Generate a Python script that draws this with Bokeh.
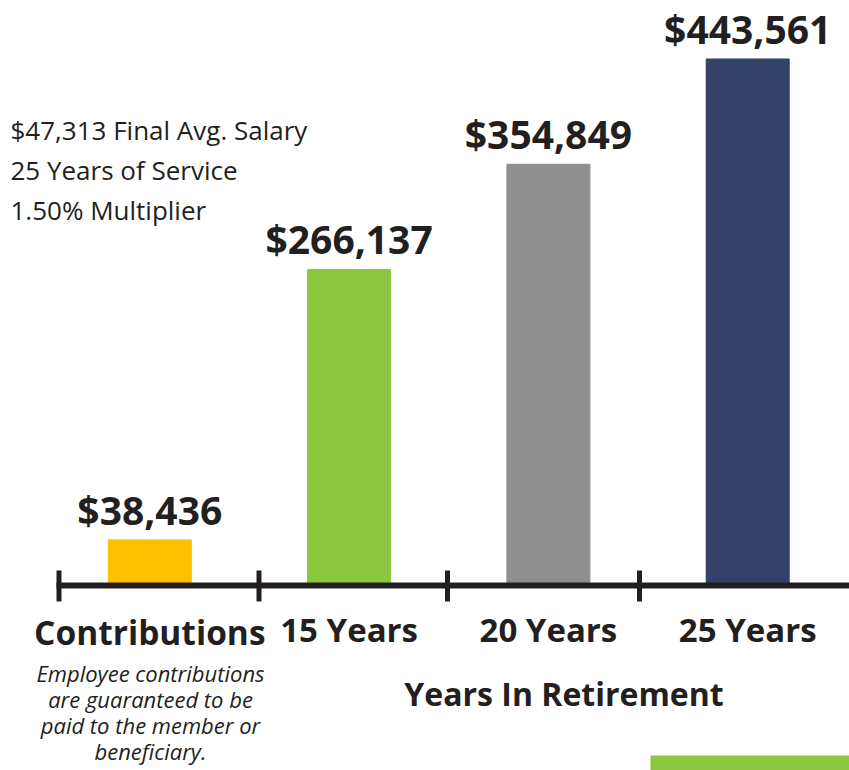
from bokeh.plotting import figure
from bokeh.models import Range1d, ColumnDataSource
from bokeh.core.properties import value
from bokeh.embed import file_html
from bokeh.resources import INLINE

# ---- data ----
categories = ["Contributions", "15 Years", "20 Years", "25 Years"]
amounts = [38436, 266137, 354849, 443561]
amount_labels = ["$38,436", "$266,137", "$354,849", "$443,561"]
bar_colors = ["#FFC000", "#8DC63F", "#8F8F8F", "#344169"]
info_lines = ["$47,313 Final Avg. Salary", "25 Years of Service", "1.50% Multiplier"]
note_lines = ["Employee contributions", "are guaranteed to be",
              "paid to the member or", "beneficiary."]
axis_title = "Years In Retirement"

# ---- layout constants (pixels) ----
W, H = 849, 770
PX_PER_CAT = 199.3
FIRST_CENTER_PX = 149.3
PX_PER_DOLLAR = 0.001187
ZERO_PX = 585.0
INK = "#231F20"
FONT = value("Open Sans")
BASE_FIX = 0.4  # em-based correction so the alphabetic baseline lands where wanted


def xd(px):
    return (px - FIRST_CENTER_PX) / PX_PER_CAT


def yd(py):
    return (ZERO_PX - py) / PX_PER_DOLLAR


def text_y(baseline_px, size):
    return yd(baseline_px - BASE_FIX * size)


p = figure(width=W, height=H,
           x_range=Range1d(xd(0), xd(W)), y_range=Range1d(yd(H), yd(0)),
           output_backend="svg", toolbar_location=None, min_border=0,
           x_axis_location=None, y_axis_location=None)
p.grid.visible = False
p.outline_line_color = None
p.background_fill_color = "white"
p.border_fill_color = "white"

idx = list(range(len(categories)))
src = ColumnDataSource(dict(x=idx, top=amounts, color=bar_colors,
                            label=amount_labels, cat=categories))

# bars
p.vbar(x="x", top="top", bottom=0, width=83 / PX_PER_CAT, color="color", source=src)

# axis line and ticks
p.segment(x0=xd(56), y0=yd(585), x1=xd(W), y1=yd(585), line_width=6, line_color=INK)
tick_px = [58.5, 258.5, 447, 639]
p.segment(x0=[xd(t) for t in tick_px], y0=[yd(570)] * 4,
          x1=[xd(t) for t in tick_px], y1=[yd(601)] * 4,
          line_width=5, line_color=INK)

# value labels above bars
VAL_FS = 39
p.text(x="x", y="top", text="label", source=src, y_offset=-(15 + BASE_FIX * VAL_FS),
       text_align="center", text_baseline="alphabetic",
       text_font=FONT, text_font_style="bold", text_font_size=f"{VAL_FS}px", text_color=INK)

# category labels
CAT_FS = 33
p.text(x=idx[:1], y=[text_y(645, 33.5)], text=categories[:1],
       text_align="center", text_baseline="alphabetic",
       text_font=FONT, text_font_style="bold", text_font_size="33.5px", text_color=INK)
p.text(x=idx[1:], y=[text_y(642, CAT_FS)] * 3, text=categories[1:],
       text_align="center", text_baseline="alphabetic",
       text_font=FONT, text_font_style="bold", text_font_size=f"{CAT_FS}px", text_color=INK)

# info block
INFO_FS = 26
p.text(x=[xd(10)] * 3, y=[text_y(139.5 + 40.3 * i, INFO_FS) for i in range(3)], text=info_lines,
       text_align="left", text_baseline="alphabetic",
       text_font=FONT, text_font_size=f"{INFO_FS}px", text_color=INK)

# note
NOTE_FS = 22
p.text(x=[xd(150)] * 4, y=[text_y(681 + 26 * i, NOTE_FS) for i in range(4)], text=note_lines,
       text_align="center", text_baseline="alphabetic",
       text_font=FONT, text_font_style="italic", text_font_size=f"{NOTE_FS}px", text_color=INK)

# axis title
TITLE_FS = 32
p.text(x=[xd(563.5)], y=[text_y(706, TITLE_FS)], text=[axis_title],
       text_align="center", text_baseline="alphabetic",
       text_font=FONT, text_font_style="bold", text_font_size=f"{TITLE_FS}px", text_color=INK)

# partial green shape at bottom right
p.quad(left=[xd(650)], right=[xd(W)], top=[yd(755)], bottom=[yd(H + 5)],
       color="#8DC63F", line_color=None)

open("out.html", "w").write(file_html(p, INLINE))
